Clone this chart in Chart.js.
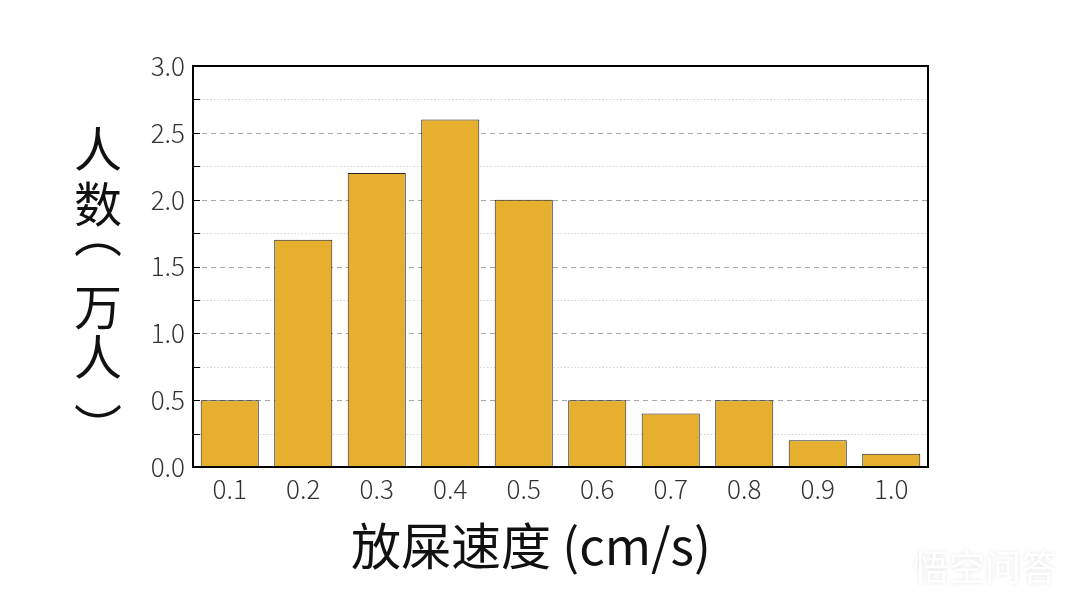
<!DOCTYPE html>
<html><head><meta charset="utf-8">
<script src="https://cdn.jsdelivr.net/npm/chart.js@4.4.0/dist/chart.umd.min.js"></script>
<style>html,body{margin:0;padding:0;background:#fff;}#wrap{width:1080px;height:605px;position:relative;}</style>
</head><body><div id="wrap"><canvas id="c" width="1080" height="605"></canvas></div>
<script>
const categories = ['0.1','0.2','0.3','0.4','0.5','0.6','0.7','0.8','0.9','1.0'];
const people = [0.5, 1.7, 2.2, 2.6, 2.0, 0.5, 0.4, 0.5, 0.2, 0.1];
const yTitleChars = ['人','数','︵','万','人','︶'];
const xTitle = '放屎速度 (cm/s)';
const watermark = '悟空问答';
const yMin = 0, yMax = 3, yMajor = 0.5, yMinor = 0.25;

const cjk = '"Noto Sans CJK SC", "Noto Sans", sans-serif';
const yTitleY = [149, 204, 234, 307, 357, 427];

const framePlugin = {
  id: 'frame',
  beforeDatasetsDraw(chart) {
    const {ctx, chartArea: a, scales: {y}} = chart;
    ctx.save();
    for (let v = yMin + yMinor; v < yMax - 1e-9; v += yMinor) {
      const py = Math.round(y.getPixelForValue(v)) + 0.5;
      const major = Math.abs(v / yMajor - Math.round(v / yMajor)) < 1e-6;
      ctx.beginPath();
      ctx.strokeStyle = major ? '#a8a8a8' : '#d2d2d2';
      ctx.lineWidth = 1;
      ctx.setLineDash(major ? [5, 4] : [1.5, 2]);
      ctx.moveTo(a.left, py); ctx.lineTo(a.right, py); ctx.stroke();
    }
    ctx.restore();
  },
  afterDatasetsDraw(chart) {
    const {ctx, chartArea: a, scales: {y}} = chart;
    ctx.save();
    ctx.setLineDash([]);
    ctx.strokeStyle = '#000';
    ctx.lineWidth = 1;
    for (let v = yMin; v <= yMax + 1e-9; v += yMinor) {
      const py = Math.round(y.getPixelForValue(v)) + 0.5;
      ctx.beginPath(); ctx.moveTo(a.left, py); ctx.lineTo(a.left + 7, py); ctx.stroke();
    }
    ctx.lineWidth = 2;
    ctx.strokeRect(a.left, a.top, a.right - a.left, a.bottom - a.top);
    // y title: stacked vertical text
    ctx.fillStyle = '#111';
    ctx.font = '48px ' + cjk;
    ctx.textAlign = 'center';
    ctx.textBaseline = 'middle';
    yTitleChars.forEach((ch, i) => ctx.fillText(ch, 98, yTitleY[i]));
    // x title
    ctx.font = '50px ' + cjk;
    ctx.fillText(xTitle, 531, 546);
    // watermark
    ctx.font = '36px ' + cjk;
    ctx.textAlign = 'left';
    ctx.shadowColor = 'rgba(0,0,0,0.12)';
    ctx.shadowBlur = 4;
    ctx.fillStyle = '#ffffff';
    ctx.fillText(watermark, 913, 567);
    ctx.restore();
  }
};

new Chart(document.getElementById('c'), {
  type: 'bar',
  data: {
    labels: categories,
    datasets: [{
      data: people,
      backgroundColor: '#E6AF2E',
      borderColor: '#222222',
      borderWidth: 1,
      barPercentage: 0.79,
      categoryPercentage: 1.0
    }]
  },
  options: {
    responsive: false,
    animation: false,
    devicePixelRatio: 1,
    layout: {padding: {top: 66, right: 152, left: 0, bottom: 0}},
    plugins: {legend: {display: false}, tooltip: {enabled: false}},
    scales: {
      x: {
        grid: {display: false, drawTicks: false},
        border: {display: false},
        ticks: {color: '#333', font: {family: cjk, size: 26, weight: '300'}, padding: 7},
        afterFit(s) { s.height = 138; }
      },
      y: {
        min: yMin, max: yMax,
        grid: {display: false, drawTicks: false},
        border: {display: false},
        ticks: {stepSize: yMajor, color: '#333', font: {family: cjk, size: 26, weight: '300'}, padding: 8,
          callback: v => Number(v).toFixed(1)},
        afterFit(s) { s.width = 193; }
      }
    }
  },
  plugins: [framePlugin]
});
</script>
</body></html>
